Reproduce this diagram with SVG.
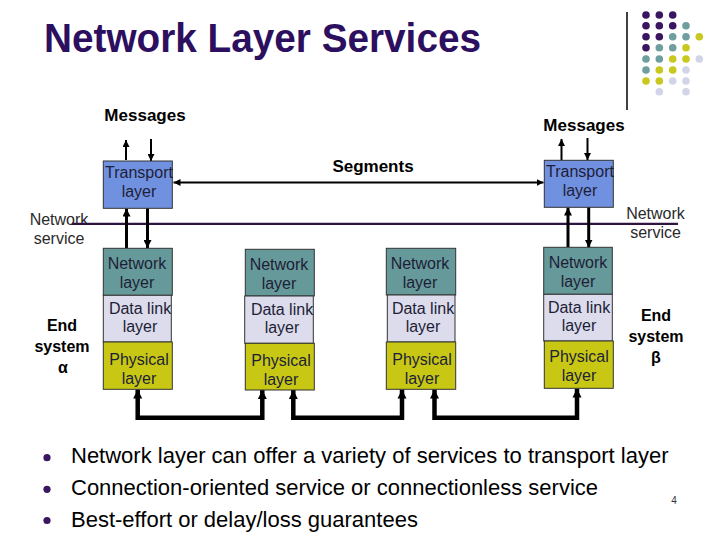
<svg xmlns="http://www.w3.org/2000/svg" width="720" height="540" viewBox="0 0 720 540">
<defs>
<style>
.title{font-family:"Liberation Sans",Arial,sans-serif;font-weight:bold;font-size:41px;fill:#2d0f5f}
.lbl{font-family:"Liberation Sans",Arial,sans-serif;font-weight:bold;font-size:16px;fill:#000}
.big{font-size:17px}
.svc{font-family:"Liberation Sans",Arial,sans-serif;font-size:16px;fill:#2a2a2a}
.bx{font-family:"Liberation Sans",Arial,sans-serif;font-size:16px;fill:#1e1e38;text-anchor:middle}
.mid{text-anchor:middle}
.tr{fill:#7090e0;stroke:#333;stroke-width:1}
.nw{fill:#669999;stroke:#333;stroke-width:1}
.dl{fill:#dcdcec;stroke:#333;stroke-width:1}
.ph{fill:#c8c814;stroke:#333;stroke-width:1}
.bul{font-family:"Liberation Sans",Arial,sans-serif;font-size:22px;fill:#000}
.thin{stroke:#000;stroke-width:2;fill:none}
.med{stroke:#000;stroke-width:3;fill:none}
.thick{stroke:#000;stroke-width:4.5;fill:none}
.dp{fill:#3a1560}.dt{fill:#6e9e9e}.dy{fill:#c8c81e}.dlv{fill:#d4d4e8}
</style>
<marker id="a2" viewBox="0 0 10 10" refX="10" refY="5" markerWidth="7" markerHeight="7" markerUnits="userSpaceOnUse" orient="auto-start-reverse"><path d="M0,0 L10,5 L0,10 z" fill="#000"/></marker>
<marker id="a3" viewBox="0 0 10 10" refX="10" refY="5" markerWidth="8" markerHeight="8" markerUnits="userSpaceOnUse" orient="auto-start-reverse"><path d="M0,0 L10,5 L0,10 z" fill="#000"/></marker>
<marker id="a5" viewBox="0 0 10 10" refX="10" refY="5" markerWidth="9" markerHeight="10" markerUnits="userSpaceOnUse" orient="auto-start-reverse"><path d="M0,0 L10,5 L0,10 z" fill="#000"/></marker>
</defs>
<rect width="720" height="540" fill="#fff"/>

<g id="title">
<text class="title" x="44" y="52" textLength="437" lengthAdjust="spacingAndGlyphs">Network Layer Services</text>
</g>

<g id="decoration">
<line x1="627" y1="12" x2="627" y2="110" stroke="#000" stroke-width="1.5"/>
<g>
<circle class="dp" cx="646" cy="15" r="3.8"/><circle class="dp" cx="659.3" cy="15" r="3.8"/><circle class="dp" cx="672.7" cy="15" r="3.8"/>
<circle class="dp" cx="646" cy="25.7" r="3.8"/><circle class="dp" cx="659.3" cy="25.7" r="3.8"/><circle class="dp" cx="672.7" cy="25.7" r="3.8"/><circle class="dt" cx="686" cy="25.7" r="3.8"/>
<circle class="dp" cx="646" cy="36.7" r="3.8"/><circle class="dp" cx="659.3" cy="36.7" r="3.8"/><circle class="dt" cx="672.7" cy="36.7" r="3.8"/><circle class="dt" cx="686" cy="36.7" r="3.8"/><circle class="dy" cx="699.3" cy="36.7" r="3.8"/>
<circle class="dp" cx="646" cy="47.7" r="3.8"/><circle class="dt" cx="659.3" cy="47.7" r="3.8"/><circle class="dt" cx="672.7" cy="47.7" r="3.8"/><circle class="dy" cx="686" cy="47.7" r="3.8"/>
<circle class="dt" cx="646" cy="59" r="3.8"/><circle class="dt" cx="659.3" cy="59" r="3.8"/><circle class="dy" cx="672.7" cy="59" r="3.8"/><circle class="dy" cx="686" cy="59" r="3.8"/><circle class="dlv" cx="699.3" cy="59" r="3.8"/>
<circle class="dt" cx="646" cy="70" r="3.8"/><circle class="dy" cx="659.3" cy="70" r="3.8"/><circle class="dy" cx="672.7" cy="70" r="3.8"/><circle class="dlv" cx="686" cy="70" r="3.8"/>
<circle class="dy" cx="646" cy="81" r="3.8"/><circle class="dy" cx="659.3" cy="81" r="3.8"/><circle class="dlv" cx="672.7" cy="81" r="3.8"/><circle class="dlv" cx="686" cy="81" r="3.8"/>
<circle class="dlv" cx="659.3" cy="91.7" r="3.8"/><circle class="dlv" cx="686" cy="91.7" r="3.8"/>
</g>
</g>

<g id="labels">
<text class="lbl big mid" x="145" y="120.5">Messages</text>
<text class="lbl big mid" x="584" y="130.5">Messages</text>
<text class="lbl big mid" x="373" y="171.5">Segments</text>
<text class="svc mid" x="59" y="225">Network</text>
<text class="svc mid" x="59" y="244">service</text>
<text class="svc mid" x="655.5" y="218.5">Network</text>
<text class="svc mid" x="655.5" y="237.5">service</text>
<text class="lbl mid" x="62" y="331">End</text>
<text class="lbl mid" x="62" y="351.5">system</text>
<text class="lbl mid" x="63" y="373">α</text>
<text class="lbl mid" x="656" y="321">End</text>
<text class="lbl mid" x="656" y="342">system</text>
<text class="lbl mid" x="656" y="363">β</text>
</g>

<g id="connectors">
<line class="thin" x1="126" y1="160" x2="126" y2="140" marker-end="url(#a2)"/>
<line class="thin" x1="151" y1="139" x2="151" y2="161" marker-end="url(#a2)"/>
<line class="thin" x1="561.5" y1="160" x2="561.5" y2="139" marker-end="url(#a2)"/>
<line class="thin" x1="587.5" y1="138" x2="587.5" y2="160" marker-end="url(#a2)"/>
<line class="thin" x1="173.5" y1="182.5" x2="543.5" y2="182.5" marker-start="url(#a2)" marker-end="url(#a2)"/>
<line x1="72" y1="223.8" x2="678" y2="223.8" stroke="#2e1440" stroke-width="2.2"/>
<line class="med" x1="126.5" y1="248" x2="126.5" y2="208.5" marker-end="url(#a3)"/>
<line class="med" x1="147.5" y1="208" x2="147.5" y2="248" marker-end="url(#a3)"/>
<line class="med" x1="568" y1="247" x2="568" y2="207.5" marker-end="url(#a3)"/>
<line class="med" x1="588.7" y1="207" x2="588.7" y2="247.5" marker-end="url(#a3)"/>
<path class="thick" d="M137.7 389.5 V417.7 H262.3 V390" marker-start="url(#a5)" marker-end="url(#a5)"/>
<path class="thick" d="M293.3 390 V417.7 H402 V389.5" marker-start="url(#a5)" marker-end="url(#a5)"/>
<path class="thick" d="M434.5 389.5 V417.7 H577 V388.5" marker-start="url(#a5)" marker-end="url(#a5)"/>
</g>

<g id="transport-left">
<rect class="tr" x="103.3" y="161" width="69" height="47.3"/>
<text class="bx" x="139" y="177.5">Transport</text>
<text class="bx" x="139" y="196.5">layer</text>
</g>
<g id="transport-right">
<rect class="tr" x="544.3" y="160.3" width="69" height="47"/>
<text class="bx" x="580" y="177">Transport</text>
<text class="bx" x="580" y="196">layer</text>
</g>

<g id="stack-alpha">
<rect class="nw" x="103.3" y="248.3" width="69" height="47"/>
<text class="bx" x="137" y="269">Network</text>
<text class="bx" x="137" y="288">layer</text>
<rect class="dl" x="103.3" y="295.3" width="68" height="46.7"/>
<text class="bx" x="140" y="314">Data link</text>
<text class="bx" x="140" y="332">layer</text>
<rect class="ph" x="103.3" y="342" width="69" height="47.3"/>
<text class="bx" x="139" y="365">Physical</text>
<text class="bx" x="139" y="383.5">layer</text>
</g>

<g id="stack-router1">
<rect class="nw" x="245.3" y="249.3" width="69" height="46.7"/>
<text class="bx" x="279" y="270">Network</text>
<text class="bx" x="279" y="289">layer</text>
<rect class="dl" x="244.7" y="296" width="68.6" height="47.3"/>
<text class="bx" x="282" y="315">Data link</text>
<text class="bx" x="282" y="333">layer</text>
<rect class="ph" x="245.3" y="343.3" width="69" height="46.7"/>
<text class="bx" x="281" y="366">Physical</text>
<text class="bx" x="281" y="384.5">layer</text>
</g>

<g id="stack-router2">
<rect class="nw" x="386.3" y="248.3" width="69.4" height="46.7"/>
<text class="bx" x="420" y="269">Network</text>
<text class="bx" x="420" y="288">layer</text>
<rect class="dl" x="387.3" y="295" width="67.7" height="47"/>
<text class="bx" x="423" y="314">Data link</text>
<text class="bx" x="423" y="332">layer</text>
<rect class="ph" x="386.3" y="342" width="69.4" height="47.3"/>
<text class="bx" x="422" y="365">Physical</text>
<text class="bx" x="422" y="383.5">layer</text>
</g>

<g id="stack-beta">
<rect class="nw" x="543.7" y="247.3" width="68.6" height="47"/>
<text class="bx" x="578" y="268">Network</text>
<text class="bx" x="578" y="287">layer</text>
<rect class="dl" x="543.7" y="294.3" width="68.6" height="46.7"/>
<text class="bx" x="579" y="313">Data link</text>
<text class="bx" x="579" y="331">layer</text>
<rect class="ph" x="544.3" y="341" width="69" height="47.3"/>
<text class="bx" x="579" y="362">Physical</text>
<text class="bx" x="579" y="381">layer</text>
</g>

<g id="bullets">
<circle cx="47" cy="457.7" r="3.6" fill="#3a1560"/>
<circle cx="47" cy="489.3" r="3.6" fill="#3a1560"/>
<circle cx="47" cy="520.5" r="3.6" fill="#3a1560"/>
<text class="bul" x="71" y="463">Network layer can offer a variety of services to transport layer</text>
<text class="bul" x="71" y="495">Connection-oriented service or connectionless service</text>
<text class="bul" x="71" y="526.5">Best-effort or delay/loss guarantees</text>
<text x="674" y="504" font-family="Liberation Sans, Arial, sans-serif" font-size="10" fill="#333" text-anchor="middle">4</text>
</g>
</svg>
